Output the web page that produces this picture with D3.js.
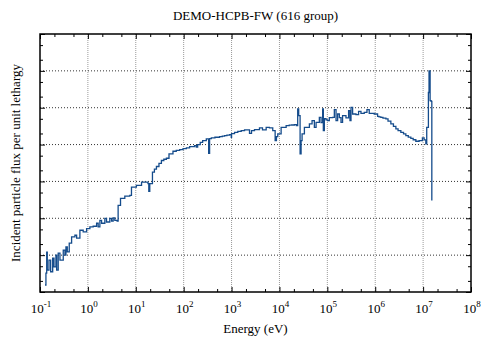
<!DOCTYPE html>
<html>
<head>
<meta charset="utf-8">
<script src="https://cdn.jsdelivr.net/npm/d3@7"></script>
<style>
  body { margin: 0; background: #fff; }
  svg { display: block; }
  text { font-family: "Liberation Serif", "Times New Roman", serif; fill: #000; }
</style>
</head>
<body>
<svg id="chart" width="482" height="340"></svg>
<script>
// Group lower edges (eV) and flux per unit lethargy in each group
const energy = [
  0.127, 0.133, 0.138, 0.142, 0.154, 0.167, 0.184, 0.196, 0.215, 0.223,
  0.240, 0.261, 0.306, 0.332, 0.348, 0.371, 0.408, 0.457, 0.536, 0.582,
  0.681, 0.798, 0.94, 1.10, 1.29, 1.52, 1.64, 1.78, 1.93, 2.26,
  2.45, 2.87, 3.12, 3.37, 3.65, 4.08, 4.28, 4.80, 5.90, 7.50,
  8.13, 10.3, 13.2, 18.0, 18.7, 19.6, 22.3, 24.5, 27.0, 30.5,
  34.3, 38.5, 43.6, 49.4, 59.8, 70.0, 82.5, 97.0, 114, 133,
  169, 184, 196, 222, 249, 297, 332, 348, 378, 450,
  562, 640, 715, 800, 909, 986, 1000, 1155, 1350, 1590,
  1866, 2371, 2610, 3013, 3831, 4426, 5284, 6190, 7250, 8130,
  8660, 9230, 10840, 13800, 16000, 18000, 20540, 22600, 24040, 25230,
  26990, 28310, 29700, 33200, 42200, 48000, 53600, 58200, 68100, 73900,
  79800, 82500, 86600, 93900, 1.01e5, 1.10e5, 1.29e5, 1.40e5, 1.52e5, 1.64e5,
  1.78e5, 1.93e5, 2.08e5, 2.45e5, 2.78e5, 2.97e5, 3.12e5, 3.37e5, 3.96e5, 4.49e5,
  5.04e5, 5.90e5, 6.72e5, 7.50e5, 9.53e5, 1.12e6, 1.20e6, 1.31e6, 1.45e6, 1.67e6,
  1.85e6, 2.12e6, 2.40e6, 2.70e6, 3.00e6, 3.43e6, 3.90e6, 4.36e6, 4.90e6, 5.54e6,
  6.20e6, 7.05e6, 8.25e6, 9.66e6, 1.05e7, 1.14e7, 1.19e7, 1.29e7, 1.33e7, 1.40e7,
  1.47e7, 1.52e7
];
const flux = [
  1.55e7, 3.26e7, 1.21e8, 3.93e7, 7.33e7, 3.54e7, 8.30e7, 4.83e7, 1.0e8, 3.93e7,
  1.13e8, 7.33e7, 1.36e8, 1.0e8, 1.68e8, 1.23e8, 2.11e8, 3.12e8, 3.47e8, 2.88e8,
  4.74e8, 4.27e8, 5.27e8, 5.82e8, 6.08e8, 7.33e8, 5.82e8, 8.83e8, 7.33e8, 1.0e9,
  7.94e8, 1.0e9, 8.45e8, 1.02e9, 8.83e8, 8.45e8, 2.24e9, 3.47e9, 4.01e9, 4.19e9,
  7.01e9, 7.80e9, 9.57e9, 8.67e9, 5.37e9, 8.67e9, 1.78e10, 2.15e10, 2.54e10, 3.10e10,
  3.70e10, 4.00e10, 4.26e10, 5.61e10, 6.59e10, 7.00e10, 7.33e10, 7.80e10, 8.14e10, 8.83e10,
  9.40e10, 8.55e10, 1.0e11, 1.14e11, 1.28e11, 1.43e11, 5.82e10, 1.45e11, 1.52e11, 1.58e11,
  1.64e11, 1.70e11, 1.75e11, 1.80e11, 1.86e11, 1.57e11, 1.98e11, 2.15e11, 2.27e11, 2.39e11,
  2.49e11, 2.02e11, 2.39e11, 2.54e11, 2.83e11, 2.49e11, 2.94e11, 2.83e11, 2.39e11, 1.28e11,
  1.64e11, 1.95e11, 2.94e11, 3.26e11, 3.35e11, 3.40e11, 3.47e11, 3.26e11, 9.23e11, 6.08e11,
  5.61e10, 1.28e11, 1.95e11, 2.94e11, 3.63e11, 4.46e11, 2.94e11, 4.01e11, 5.47e11, 3.93e11,
  9.23e11, 2.39e11, 5.05e11, 4.66e11, 4.46e11, 5.37e11, 5.47e11, 8.83e11, 4.46e11, 6.76e11,
  5.37e11, 4.01e11, 6.08e11, 5.27e11, 8.30e11, 4.46e11, 1.02e12, 6.76e11, 6.47e11, 7.94e11,
  7.01e11, 7.46e11, 8.83e11, 7.01e11, 6.76e11, 5.82e11, 5.65e11, 5.47e11, 5.20e11, 4.95e11,
  4.30e11, 3.63e11, 3.10e11, 2.65e11, 2.40e11, 2.15e11, 1.95e11, 1.75e11, 1.60e11, 1.48e11,
  1.35e11, 1.23e11, 1.28e11, 1.52e11, 1.34e11, 1.04e11, 2.94e11, 2.59e12, 1.0e13, 1.55e12,
  1.48e12, 3.06e9
];

// Axis decades
const xMajor = [1e-1, 1e0, 1e1, 1e2, 1e3, 1e4, 1e5, 1e6, 1e7, 1e8];
const xExponents = ["-1", "0", "1", "2", "3", "4", "5", "6", "7", "8"];
const yMajor = [1e7, 1e8, 1e9, 1e10, 1e11, 1e12, 1e13, 1e14];
const minorMultipliers = [2, 5];

const titleText = "DEMO-HCPB-FW (616 group)";
const xLabelText = "Energy (eV)";
const yLabelText = "Incident particle flux per unit lethargy";

const plot = { left: 40, right: 471, top: 34, bottom: 292 };

const svg = d3.select("#chart");

const x = d3.scaleLog().domain([1e-1, 1e8]).range([plot.left, plot.right]);
const y = d3.scaleLog().domain([1e7, 1e14]).range([plot.bottom, plot.top]);

const minorOf = majors => majors.slice(0, -1).flatMap(m => minorMultipliers.map(k => m * k));
const xMinor = minorOf(xMajor);
const yMinor = minorOf(yMajor);

// Grid
const grid = svg.append("g");
grid.selectAll("line.vx").data(xMajor.slice(1, -1)).join("line")
  .attr("class", "vx")
  .attr("x1", d => x(d)).attr("x2", d => x(d))
  .attr("y1", plot.top).attr("y2", plot.bottom)
  .attr("stroke", "#9a9a9a").attr("stroke-width", 1)
  .attr("stroke-dasharray", "1,1");
grid.selectAll("line.hy").data(yMajor.slice(1, -1)).join("line")
  .attr("class", "hy")
  .attr("x1", plot.left).attr("x2", plot.right)
  .attr("y1", d => y(d)).attr("y2", d => y(d))
  .attr("stroke", "#333").attr("stroke-width", 1)
  .attr("stroke-dasharray", "1,2");

// Inward ticks on all four sides
function tickAxis(axisFn, scale, values, size, transform) {
  const g = svg.append("g").attr("transform", transform)
    .call(axisFn(scale).tickValues(values).tickSize(-size).tickFormat(""));
  g.select(".domain").remove();
  g.selectAll(".tick line").attr("stroke", "#000").attr("stroke-width", 1);
}
tickAxis(d3.axisBottom, x, xMajor, 5, `translate(0,${plot.bottom})`);
tickAxis(d3.axisBottom, x, xMinor, 3, `translate(0,${plot.bottom})`);
tickAxis(d3.axisTop, x, xMajor, 5, `translate(0,${plot.top})`);
tickAxis(d3.axisTop, x, xMinor, 3, `translate(0,${plot.top})`);
tickAxis(d3.axisLeft, y, yMajor, 5, `translate(${plot.left},0)`);
tickAxis(d3.axisLeft, y, yMinor, 3, `translate(${plot.left},0)`);
tickAxis(d3.axisRight, y, yMajor, 5, `translate(${plot.right},0)`);
tickAxis(d3.axisRight, y, yMinor, 3, `translate(${plot.right},0)`);

// Flux spectrum
const pts = energy.map((e, i) => [e, flux[i]]);
svg.append("path")
  .datum(pts)
  .attr("fill", "none")
  .attr("stroke", "#154c8c")
  .attr("stroke-width", 1.3)
  .attr("d", d3.line().x(d => x(d[0])).y(d => y(d[1])).curve(d3.curveStepAfter));

// Frame
svg.append("rect")
  .attr("x", plot.left).attr("y", plot.top)
  .attr("width", plot.right - plot.left).attr("height", plot.bottom - plot.top)
  .attr("fill", "none").attr("stroke", "#000").attr("stroke-width", 1.5);

// Tick labels as powers of ten
const lbl = svg.append("g").selectAll("text").data(xMajor).join("text")
  .attr("x", d => x(d) + 1)
  .attr("y", 313)
  .attr("text-anchor", "middle")
  .attr("font-size", 13);
lbl.append("tspan").text("10");
lbl.append("tspan").attr("dy", -6).attr("font-size", 9).text((d, i) => xExponents[i]);

// Titles
svg.append("text")
  .attr("x", (plot.left + plot.right) / 2).attr("y", 20)
  .attr("text-anchor", "middle").attr("font-size", 13)
  .text(titleText);
svg.append("text")
  .attr("x", (plot.left + plot.right) / 2).attr("y", 333)
  .attr("text-anchor", "middle").attr("font-size", 13)
  .text(xLabelText);
svg.append("text")
  .attr("transform", `translate(20,${(plot.top + plot.bottom) / 2}) rotate(-90)`)
  .attr("text-anchor", "middle").attr("font-size", 13)
  .text(yLabelText);
</script>
</body>
</html>
